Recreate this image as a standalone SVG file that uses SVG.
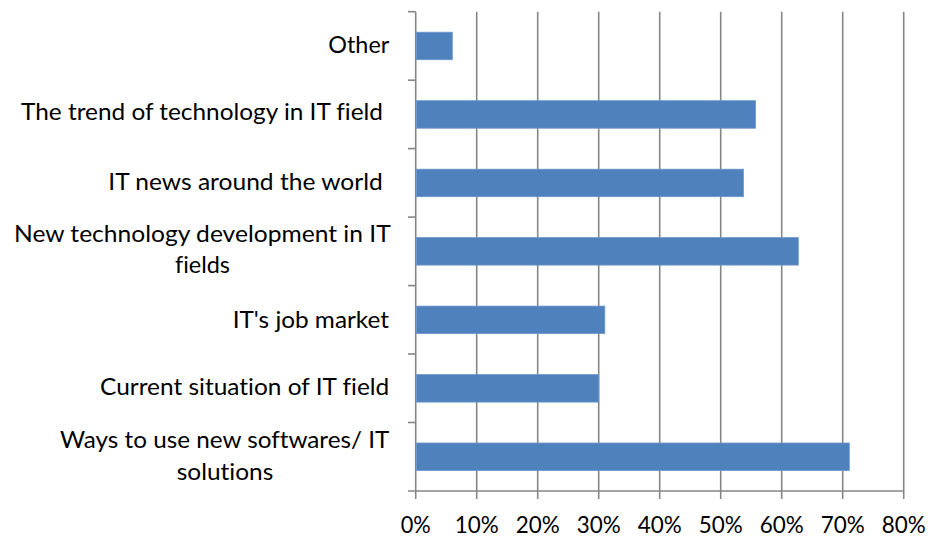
<svg xmlns="http://www.w3.org/2000/svg" width="929" height="537" viewBox="0 0 929 537">
<style>
.grid{stroke:#868686;stroke-width:1.6;fill:none}
.bar{fill:#4F81BD;stroke:#6A96CC;stroke-width:0.8}
.lbl{font-family:Lato,"Liberation Sans",sans-serif;font-size:24px;fill:#000;font-variant-ligatures:none}
.xl{font-family:Lato,"Liberation Sans",sans-serif;font-size:24px;fill:#000;text-anchor:middle}
</style>
<rect width="929" height="537" fill="#fff"/>
<g id="gridlines">
<line class="grid" x1="476.7" y1="11.7" x2="476.7" y2="499"/>
<line class="grid" x1="537.7" y1="11.7" x2="537.7" y2="499"/>
<line class="grid" x1="598.7" y1="11.7" x2="598.7" y2="499"/>
<line class="grid" x1="659.7" y1="11.7" x2="659.7" y2="499"/>
<line class="grid" x1="720.7" y1="11.7" x2="720.7" y2="499"/>
<line class="grid" x1="781.7" y1="11.7" x2="781.7" y2="499"/>
<line class="grid" x1="842.7" y1="11.7" x2="842.7" y2="499"/>
<line class="grid" x1="903.7" y1="11.7" x2="903.7" y2="499"/>
</g>
<g id="axes">
<line class="grid" x1="415.7" y1="11.7" x2="415.7" y2="499"/>
<line class="grid" x1="408" y1="491" x2="903.7" y2="491"/>
<line class="grid" x1="408" y1="11.7" x2="415.7" y2="11.7"/>
<line class="grid" x1="408" y1="80.2" x2="415.7" y2="80.2"/>
<line class="grid" x1="408" y1="148.6" x2="415.7" y2="148.6"/>
<line class="grid" x1="408" y1="217.1" x2="415.7" y2="217.1"/>
<line class="grid" x1="408" y1="285.6" x2="415.7" y2="285.6"/>
<line class="grid" x1="408" y1="354" x2="415.7" y2="354"/>
<line class="grid" x1="408" y1="422.5" x2="415.7" y2="422.5"/>
</g>
<g id="bars">
<rect id="bar-other" class="bar" x="416.5" y="32.2" width="35.8" height="27.5"/>
<rect id="bar-trend" class="bar" x="416.5" y="100.7" width="339.1" height="27.5"/>
<rect id="bar-news" class="bar" x="416.5" y="169.2" width="326.9" height="27.5"/>
<rect id="bar-newtech" class="bar" x="416.5" y="237.6" width="381.8" height="27.5"/>
<rect id="bar-job" class="bar" x="416.5" y="306.1" width="188.3" height="27.5"/>
<rect id="bar-current" class="bar" x="416.5" y="374.6" width="182.2" height="27.5"/>
<rect id="bar-ways" class="bar" x="416.5" y="443" width="432.8" height="27.5"/>
</g>
<g id="category-labels">
<text class="lbl" x="328.3" y="53" textLength="61" lengthAdjust="spacingAndGlyphs">Other</text>
<text class="lbl" x="21" y="120" textLength="362" lengthAdjust="spacingAndGlyphs">The trend of technology in IT field</text>
<text class="lbl" x="108.3" y="190" textLength="274.4" lengthAdjust="spacingAndGlyphs">IT news around the world</text>
<text class="lbl" x="14" y="241.7" textLength="376.7" lengthAdjust="spacingAndGlyphs">New technology development in IT</text>
<text class="lbl" x="175" y="273.3" textLength="55" lengthAdjust="spacingAndGlyphs">fields</text>
<text class="lbl" x="232.7" y="328" textLength="156.3" lengthAdjust="spacingAndGlyphs">IT's job market</text>
<text class="lbl" x="100" y="395" textLength="289.3" lengthAdjust="spacingAndGlyphs">Current situation of IT field</text>
<text class="lbl" x="60" y="447.5" textLength="329.3" lengthAdjust="spacingAndGlyphs">Ways to use new softwares/ IT</text>
<text class="lbl" x="176.7" y="479.5" textLength="96.6" lengthAdjust="spacingAndGlyphs">solutions</text>
</g>
<g id="value-labels">
<text class="xl" x="415.7" y="533.3" textLength="30" lengthAdjust="spacingAndGlyphs">0%</text>
<text class="xl" x="476.7" y="533.3" textLength="44" lengthAdjust="spacingAndGlyphs">10%</text>
<text class="xl" x="537.7" y="533.3" textLength="44" lengthAdjust="spacingAndGlyphs">20%</text>
<text class="xl" x="598.7" y="533.3" textLength="44" lengthAdjust="spacingAndGlyphs">30%</text>
<text class="xl" x="659.7" y="533.3" textLength="44" lengthAdjust="spacingAndGlyphs">40%</text>
<text class="xl" x="720.7" y="533.3" textLength="44" lengthAdjust="spacingAndGlyphs">50%</text>
<text class="xl" x="781.7" y="533.3" textLength="44" lengthAdjust="spacingAndGlyphs">60%</text>
<text class="xl" x="842.7" y="533.3" textLength="44" lengthAdjust="spacingAndGlyphs">70%</text>
<text class="xl" x="903.7" y="533.3" textLength="44" lengthAdjust="spacingAndGlyphs">80%</text>
</g>
</svg>
